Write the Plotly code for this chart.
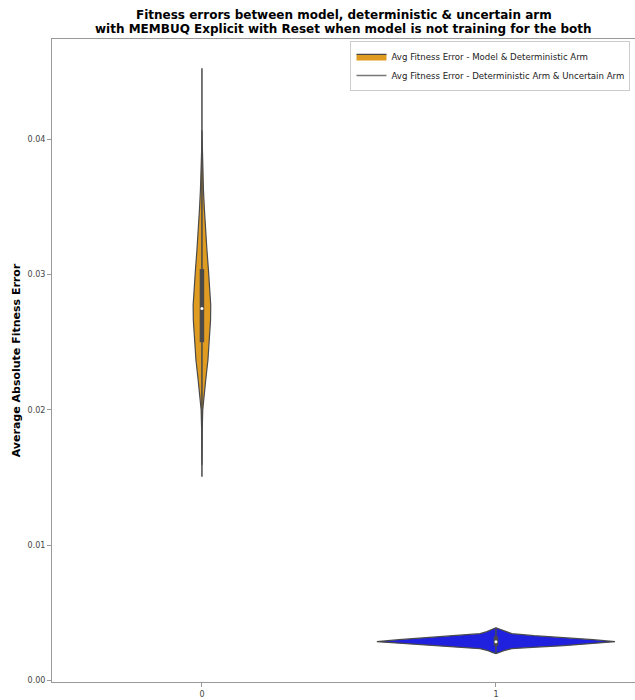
import plotly.graph_objects as go

# ---- data ----
categories = [0, 1]
series_names = ["Avg Fitness Error - Model & Deterministic Arm",
                "Avg Fitness Error - Deterministic Arm & Uncertain Arm"]

# violin outline: value levels and kernel-density half-widths (in category units)
orange_levels = [0.04066, 0.03919, 0.03771, 0.03624, 0.03476, 0.03328, 0.03181, 0.03033,
                 0.02886, 0.02775, 0.02664, 0.02517, 0.02369, 0.02221, 0.02111, 0.02000,
                 0.01852, 0.01705, 0.01594]
orange_density = [0.0, 0.001, 0.0024, 0.0051, 0.0085, 0.0119, 0.017, 0.0221,
                  0.0272, 0.0299, 0.0293, 0.0255, 0.0204, 0.0129, 0.0068, 0.0027,
                  0.001, 0.0003, 0.0]

blue_levels = [0.00391, 0.00377, 0.00362, 0.00347, 0.00332, 0.00318, 0.00303, 0.00288,
               0.00273, 0.00258, 0.00244, 0.00236, 0.00222, 0.00207, 0.00199]
blue_density = [0.0, 0.017, 0.031, 0.054, 0.129, 0.231, 0.330, 0.405,
                0.330, 0.231, 0.109, 0.054, 0.027, 0.010, 0.0]

# inner box statistics: [whisker_low, q1, median, q3, whisker_high]
orange_box = [0.01506, 0.0250, 0.0275, 0.0304, 0.04524]
blue_box = [0.00200, 0.00258, 0.00288, 0.00325, 0.00390]

x_ticks = [0, 1]
x_ticklabels = ["0", "1"]
y_ticks = [0.00, 0.01, 0.02, 0.03, 0.04]
y_ticklabels = ["0.00", "0.01", "0.02", "0.03", "0.04"]

title_lines = ["Fitness errors between model, deterministic & uncertain arm",
               "with MEMBUQ Explicit with Reset when model is not training for the both"]

ORANGE = "#DF9C20"
BLUE = "#2020DF"
EDGE = "#4a4a4a"
FONT = "DejaVu Sans"


def outline(center, levels, dens):
    xs = [center + d for d in dens] + [center - d for d in reversed(dens)]
    ys = list(levels) + list(reversed(levels))
    return xs, ys


fig = go.Figure()

xo, yo = outline(categories[0], orange_levels, orange_density)
fig.add_trace(go.Scatter(x=xo, y=yo, mode="lines", fill="toself", fillcolor=ORANGE,
                         line=dict(color=EDGE, width=1.2), name=series_names[0],
                         showlegend=True, hoverinfo="skip"))

xb, yb = outline(categories[1], blue_levels, blue_density)
fig.add_trace(go.Scatter(x=xb, y=yb, mode="lines", fill="toself", fillcolor=BLUE,
                         line=dict(color=EDGE, width=1.2), showlegend=False,
                         hoverinfo="skip"))

for c, box in zip(categories, [orange_box, blue_box]):
    fig.add_trace(go.Scatter(x=[c, c], y=[box[0], box[4]], mode="lines",
                             line=dict(color=EDGE, width=1.5), showlegend=False,
                             hoverinfo="skip"))
    fig.add_trace(go.Scatter(x=[c, c], y=[box[1], box[3]], mode="lines",
                             line=dict(color=EDGE, width=4.5), showlegend=False,
                             hoverinfo="skip"))
    fig.add_trace(go.Scatter(x=[c], y=[box[2]], mode="markers",
                             marker=dict(color="white", size=3), showlegend=False,
                             hoverinfo="skip"))

# legend entry for second series (drawn as a line handle, as in the reference)
fig.add_trace(go.Scatter(x=[None], y=[None], mode="lines",
                         line=dict(color="#777777", width=1.5), name=series_names[1],
                         showlegend=True))

PLOT_H = 700 - 39 - 18
for i, (txt, ypx) in enumerate(zip(title_lines, [15, 29])):
    fig.add_annotation(text="<b>" + txt + "</b>", xref="paper", yref="paper",
                       x=0.5, xanchor="center", y=1 + (39 - ypx) / PLOT_H,
                       yanchor="middle", showarrow=False,
                       font=dict(family=FONT, size=12, color="black"))

fig.update_layout(
    width=635, height=700,
    margin=dict(l=52, r=0, t=39, b=18, autoexpand=False),
    paper_bgcolor="white", plot_bgcolor="white",
    font=dict(family=FONT, size=9, color="#333333"),
    showlegend=True,
    legend=dict(x=0.512, xanchor="left", y=0.997, yanchor="top",
                bgcolor="rgba(255,255,255,0.9)", bordercolor="#cccccc", borderwidth=1,
                font=dict(family=FONT, size=8.6, color="#222222"),
                tracegroupgap=0, itemwidth=30),
)

fig.update_xaxes(range=[-0.51, 1.473], tickvals=x_ticks, ticktext=x_ticklabels,
                 showgrid=False, zeroline=False, showline=True, linecolor="#999999",
                 linewidth=1, mirror=True, ticks="outside", ticklen=4, tickcolor="#999999",
                 tickfont=dict(family=FONT, size=8, color="#444444"))
fig.update_yaxes(range=[-0.0001, 0.0474], tickvals=y_ticks, ticktext=y_ticklabels,
                 showgrid=False, zeroline=False, showline=True, linecolor="#999999",
                 linewidth=1, mirror=True, ticks="outside", ticklen=4, tickcolor="#999999",
                 tickfont=dict(family=FONT, size=8, color="#444444"),
                 title=dict(text="<b>Average Absolute Fitness Error</b>", standoff=4,
                            font=dict(family=FONT, size=11, color="black")))

fig.write_html("out.html",
               config={"displayModeBar": False, "responsive": False},
               post_script="document.body.style.margin='0';"
                           "document.body.style.overflow='hidden';"
                           "document.documentElement.style.overflow='hidden';")
